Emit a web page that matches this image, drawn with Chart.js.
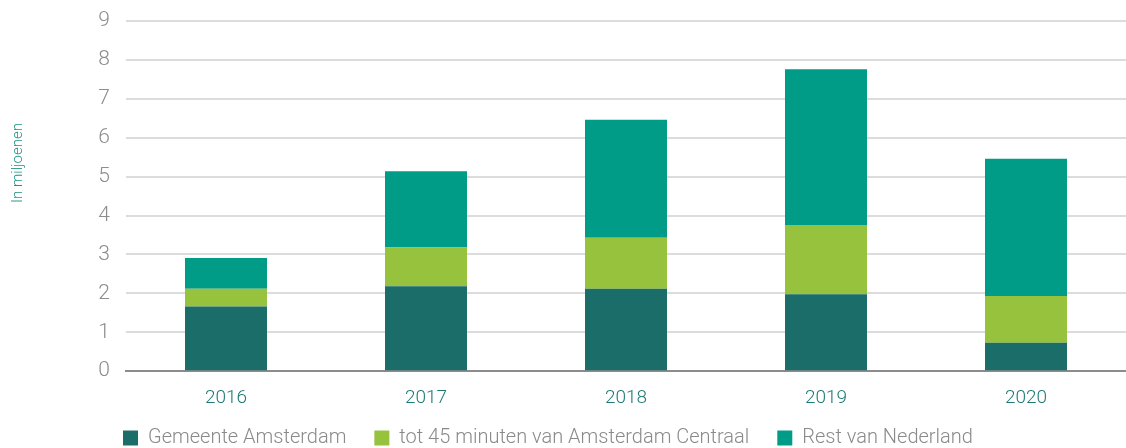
<!DOCTYPE html>
<html>
<head>
<meta charset="utf-8">
<script src="https://cdn.jsdelivr.net/npm/chart.js@4/dist/chart.umd.min.js"></script>
<style>
  html, body { margin: 0; padding: 0; background: #fff; }
  #wrap { width: 1126px; height: 448px; }
</style>
</head>
<body>
<div id="wrap"><canvas id="myBarChart" width="1126" height="448"></canvas></div>
<script>
const years = ["2016", "2017", "2018", "2019", "2020"];
const gemeente = [1.66, 2.18, 2.12, 1.98, 0.73];
const tot45 = [0.46, 1.0, 1.31, 1.78, 1.2];
const restNL = [0.79, 1.96, 3.03, 4.0, 3.53];
const seriesNames = ["Gemeente Amsterdam", "tot 45 minuten van Amsterdam Centraal", "Rest van Nederland"];
const yTitle = "In miljoenen";

const FONT = "'Roboto', sans-serif";

// rotated axis title, sits a bit above the middle like the original
const yTitlePlugin = {
  id: "yTitle",
  afterDraw(chart) {
    const ctx = chart.ctx;
    ctx.save();
    ctx.translate(18, 163);
    ctx.rotate(-Math.PI / 2);
    ctx.font = "300 15px " + FONT;
    ctx.fillStyle = "#1f9484";
    ctx.textAlign = "center";
    ctx.textBaseline = "middle";
    ctx.fillText(yTitle, 0, 0);
    ctx.restore();
  },
};

// legend label padding is big for the horizontal gaps, pull the row up a bit
const legendShift = {
  id: "legendShift",
  afterLayout(chart) {
    chart.legend.top -= 18;
  },
};

const config = {
  type: "bar",
  data: {
    labels: years,
    datasets: [
      { label: seriesNames[0], data: gemeente, backgroundColor: "#1a6d68" },
      { label: seriesNames[1], data: tot45, backgroundColor: "#97c23d" },
      { label: seriesNames[2], data: restNL, backgroundColor: "#009c88" },
    ],
  },
  options: {
    responsive: false,
    animation: false,
    layout: { padding: { top: 0, right: 0, left: 95, bottom: 0 } },
    datasets: { bar: { barPercentage: 0.41, categoryPercentage: 1 } },
    plugins: {
      legend: {
        position: "bottom",
        align: "start",
        maxHeight: 30,
        labels: {
          boxWidth: 15,
          boxHeight: 15,
          padding: 28,
          color: "#8a8a8a",
          font: { family: FONT, size: 20, weight: 300 },
        },
      },
      tooltip: { enabled: false },
    },
    scales: {
      x: {
        stacked: true,
        grid: { display: false },
        border: { color: "#8c8c8c", width: 2 },
        ticks: { color: "#1f7a74", font: { family: FONT, size: 19, weight: 300 }, padding: 8 },
      },
      y: {
        stacked: true,
        min: 0,
        max: 9,
        afterFit(scale) {
          scale.width = 31;
          scale.paddingTop = 21;
        },
        grid: { color: "#dcdcdc", lineWidth: 2, drawTicks: false },
        border: { display: false },
        ticks: { stepSize: 1, color: "#8c8c8c", font: { family: FONT, size: 21, weight: 300 }, padding: 16 },
      },
    },
  },
  plugins: [yTitlePlugin, legendShift],
};

new Chart(document.querySelector("#myBarChart"), config);
</script>
</body>
</html>
